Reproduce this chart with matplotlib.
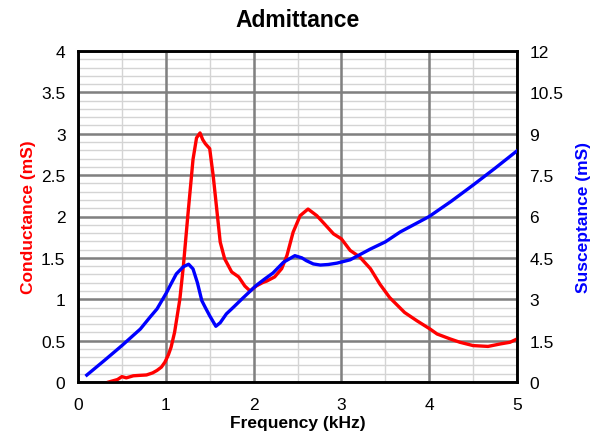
import matplotlib
matplotlib.use("Agg")
import matplotlib.pyplot as plt
from matplotlib.ticker import MultipleLocator, FuncFormatter

plt.rcParams['font.family'] = ['Liberation Sans', 'DejaVu Sans']

# Conductance (mS) vs frequency (kHz)
g_freq = [0.35, 0.45, 0.5, 0.55, 0.63, 0.7, 0.78, 0.85, 0.9, 0.95, 0.99, 1.03, 1.06, 1.1, 1.16, 1.2,
          1.25, 1.31, 1.35, 1.39, 1.42, 1.45, 1.5, 1.54, 1.58, 1.62, 1.67, 1.75, 1.83, 1.9, 1.96,
          2.03, 2.1, 2.15, 2.24, 2.32, 2.38, 2.45, 2.53, 2.62, 2.72, 2.79, 2.91, 3.0, 3.1,
          3.21, 3.33, 3.44, 3.55, 3.72, 3.86, 4.01, 4.09, 4.24, 4.35, 4.5, 4.67, 4.81, 4.92, 5.0]
g_vals = [0.0, 0.03, 0.065, 0.05, 0.075, 0.08, 0.085, 0.11, 0.14, 0.18, 0.24, 0.33, 0.42, 0.6, 1.0, 1.4,
          2.0, 2.69, 2.95, 3.01, 2.93, 2.88, 2.82, 2.49, 2.09, 1.69, 1.49, 1.33, 1.27, 1.16, 1.10,
          1.16, 1.2, 1.22, 1.27, 1.37, 1.53, 1.81, 2.01, 2.09, 2.01, 1.93, 1.79, 1.73, 1.59,
          1.51, 1.37, 1.18, 1.02, 0.84, 0.74, 0.64, 0.58, 0.52, 0.48, 0.44, 0.43, 0.46, 0.48, 0.52]

# Susceptance (mS) vs frequency (kHz)
b_freq = [0.1, 0.3, 0.5, 0.71, 0.82, 0.9, 1.01, 1.05, 1.12, 1.2, 1.26, 1.31, 1.36, 1.41, 1.45,
          1.5, 1.57, 1.62, 1.69, 1.77, 1.88, 2.03, 2.12, 2.22, 2.34, 2.47, 2.55, 2.6, 2.68, 2.76,
          2.85, 2.95, 3.1, 3.33, 3.5, 3.67, 4.0, 4.25, 4.5, 4.75, 5.0]
b_vals = [0.25, 0.78, 1.32, 1.92, 2.35, 2.65, 3.25, 3.5, 3.92, 4.18, 4.27, 4.1, 3.6, 2.95, 2.7,
          2.4, 2.02, 2.15, 2.47, 2.71, 3.05, 3.5, 3.72, 3.95, 4.34, 4.58, 4.5, 4.4, 4.28, 4.24,
          4.26, 4.31, 4.43, 4.82, 5.08, 5.44, 6.0, 6.55, 7.14, 7.75, 8.38]

fig = plt.figure(figsize=(6.04, 4.35), dpi=100)
pos = [78/604, 52/435, (517-78)/604, (383-52)/435]

# background axes: minor grid only
ax0 = fig.add_axes(pos, zorder=0)
ax0.set_xlim(0, 5)
ax0.set_ylim(0, 4)
ax0.xaxis.set_major_locator(MultipleLocator(0.5))
ax0.yaxis.set_major_locator(MultipleLocator(0.1))
ax0.grid(which='major', color='#d4d4d4', linewidth=1.0)
ax0.tick_params(which='both', length=0, labelleft=False, labelbottom=False)
for s in ax0.spines.values():
    s.set_visible(False)

ax = fig.add_axes(pos, zorder=1)
ax.patch.set_alpha(0)
ax2 = ax.twinx()
ax2.set_zorder(2)

ax.set_xlim(0, 5)
ax.set_ylim(0, 4)
ax2.set_ylim(0, 12)

ax.xaxis.set_major_locator(MultipleLocator(1))
ax.yaxis.set_major_locator(MultipleLocator(0.5))
ax2.yaxis.set_major_locator(MultipleLocator(1.5))

fmt = FuncFormatter(lambda v, p: ('%g' % v))
ax.yaxis.set_major_formatter(fmt)
ax2.yaxis.set_major_formatter(fmt)
ax.xaxis.set_major_formatter(fmt)

ax.grid(which='major', color='#808080', linewidth=1.8)
ax.set_axisbelow(True)

ax.plot(g_freq, g_vals, color='#ff0000', linewidth=2.4, zorder=3)
ax2.plot(b_freq, b_vals, color='#0000ff', linewidth=2.4, zorder=3)

for a in (ax, ax2):
    a.tick_params(which='both', length=0, labelsize=12.5, pad=9)
    for s in a.spines.values():
        s.set_linewidth(1.8)
        s.set_color('black')
ax.tick_params(axis='x', pad=11)

ax.set_title('Admittance', fontsize=16.5, fontweight='bold', pad=18)
ax.set_xlabel('Frequency (kHz)', fontsize=12.5, fontweight='bold', labelpad=2)
ax.set_ylabel('Conductance (mS)', fontsize=12.5, fontweight='bold', color='#ff0000', labelpad=4)
ax2.set_ylabel('Susceptance (mS)', fontsize=12.5, fontweight='bold', color='#0000ff', labelpad=9)

fig.savefig('out.png', dpi=100)
